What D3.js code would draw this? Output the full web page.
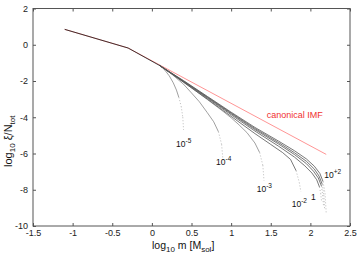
<!DOCTYPE html>
<html lang="en">
<head>
  <meta charset="UTF-8">
  <title>IMF truncation</title>
  <style>
    body { margin: 0; background: #fff; }
    svg { display: block; font-family: "Liberation Sans", Arial, sans-serif; }
    .frame { fill: none; stroke: #555; stroke-width: 1; }
    .axis path { display: none; }
    .axis line { stroke: #555; }
    .axis text { font-size: 9px; fill: #222; font-family: "Liberation Sans", Arial, sans-serif; }
    .curve { fill: none; stroke-width: 0.8; }
  </style>
</head>
<body>
<svg></svg>
<script src="https://cdn.jsdelivr.net/npm/d3@7"></script>
<script>

  let xTicks = [-1.5, -1, -0.5, 0, 0.5, 1, 1.5, 2, 2.5];
  let yTicks = [2, 0, -2, -4, -6, -8, -10];

  // shared part of all curves (below the split)
  let common = [[-1.1, 0.85], [-0.3, -0.18], [0.1, -1.15]];

  // canonical IMF
  let canonical = [[-1.1, 0.85], [-0.3, -0.18], [2.2, -6.05]];

  // truncated curves, labelled by exponent
  let curveNames = ['-5', '-4', '-3', '-2', '-1', '0', '+1', '+2'];
  let curveX = [
    [0.1, 0.16, 0.22, 0.27, 0.31, 0.34, 0.37, 0.39, 0.4],
    [0.1, 0.25, 0.4, 0.5, 0.6, 0.7, 0.78, 0.84, 0.88, 0.9],
    [0.1, 0.3, 0.5, 0.7, 0.9, 1.0, 1.1, 1.2, 1.3, 1.36, 1.4, 1.415],
    [0.1, 0.4, 0.7, 1.0, 1.3, 1.5, 1.65, 1.75, 1.82, 1.86, 1.88],
    [0.1, 0.4, 0.7, 1.0, 1.3, 1.6, 1.8, 1.93, 2.02, 2.08, 2.115, 2.13, 2.14],
    [0.1, 0.4, 0.7, 1.0, 1.3, 1.6, 1.8, 1.95, 2.04, 2.1, 2.14, 2.155, 2.165],
    [0.1, 0.4, 0.7, 1.0, 1.3, 1.6, 1.8, 1.95, 2.05, 2.11, 2.15, 2.17, 2.18],
    [0.1, 0.4, 0.7, 1.0, 1.3, 1.6, 1.8, 1.95, 2.05, 2.12, 2.16, 2.185, 2.2]
  ];
  let curveY = [
    [-1.15, -1.38, -1.72, -2.1, -2.5, -2.9, -3.4, -4.0, -4.7],
    [-1.15, -1.62, -2.18, -2.66, -3.15, -3.75, -4.25, -4.8, -5.5, -6.5],
    [-1.15, -1.75, -2.38, -3.02, -3.68, -4.03, -4.42, -4.85, -5.42, -5.95, -6.65, -7.5],
    [-1.15, -2.07, -3.0, -3.95, -4.9, -5.5, -5.95, -6.33, -6.95, -7.6, -8.1],
    [-1.15, -2.04, -2.95, -3.86, -4.76, -5.6, -6.2, -6.68, -7.08, -7.45, -7.85, -8.2, -8.6],
    [-1.15, -2.02, -2.91, -3.8, -4.68, -5.48, -6.06, -6.56, -6.98, -7.35, -7.8, -8.3, -8.85],
    [-1.15, -2.0, -2.88, -3.76, -4.62, -5.4, -5.96, -6.43, -6.86, -7.25, -7.7, -8.3, -9.1],
    [-1.15, -1.98, -2.85, -3.72, -4.56, -5.32, -5.85, -6.3, -6.7, -7.1, -7.55, -8.2, -9.3]
  ];

  // which curves carry a label, and where (data units)
  let labelNames = ['-5', '-4', '-3', '-2', '0', '+2'];
  let labelX = [0.305, 0.81, 1.323, 1.764, 2.008, 2.176];
  let labelY = [-5.62, -6.63, -8.15, -8.94, -8.54, -7.37];

  let width = 363,
    height = 255;

  let svg = d3.select('svg')
    .attr('width', width)
    .attr('height', height);

  let x = d3.scaleLinear().domain([-1.5, 2.5]).range([33, 350]);
  let y = d3.scaleLinear().domain([-10, 2]).range([226, 8.5]);

  let line = d3.line().x(d => x(d[0])).y(d => y(d[1]));

  // axes, ticks pointing inwards on all four sides
  svg.append('g')
    .attr('class', 'axis')
    .attr('transform', `translate(0,${y(-10)})`)
    .call(d3.axisBottom(x).tickValues(xTicks).tickSize(-3).tickPadding(4).tickFormat(d => String(d)));

  svg.append('g')
    .attr('class', 'axis')
    .attr('transform', `translate(0,${y(2)})`)
    .call(d3.axisTop(x).tickValues(xTicks).tickSize(-3).tickFormat(''));

  svg.append('g')
    .attr('class', 'axis')
    .attr('transform', `translate(${x(-1.5)},0)`)
    .call(d3.axisLeft(y).tickValues(yTicks).tickSize(-3).tickPadding(5).tickFormat(d => String(d)));

  svg.append('g')
    .attr('class', 'axis')
    .attr('transform', `translate(${x(2.5)},0)`)
    .call(d3.axisRight(y).tickValues(yTicks).tickSize(-3).tickFormat(''));

  svg.append('rect')
    .attr('class', 'frame')
    .attr('x', x(-1.5))
    .attr('y', y(2))
    .attr('width', x(2.5) - x(-1.5))
    .attr('height', y(-10) - y(2));

  // canonical IMF
  svg.append('path')
    .datum(canonical)
    .attr('class', 'curve')
    .attr('stroke', '#ff7a7a')
    .attr('stroke-width', 0.8)
    .attr('d', line);

  // truncated curves: solid while shallow, dotted where they plunge
  curveNames.forEach((name, i) => {
    let pts = curveX[i].map((v, j) => [v, curveY[i][j]]);
    let shade = i < 3 ? '#888' : '#555';
    for (let j = 0; j < pts.length - 1; j++) {
      let dx = x(pts[j + 1][0]) - x(pts[j][0]);
      let dy = y(pts[j + 1][1]) - y(pts[j][1]);
      let steep = dy / Math.max(dx, 0.01) > 3.5;
      svg.append('path')
        .datum([pts[j], pts[j + 1]])
        .attr('class', 'curve')
        .attr('stroke', steep ? '#aaa' : shade)
        .attr('stroke-width', steep ? 0.6 : 0.6)
        .attr('stroke-dasharray', steep ? '1,2' : null)
        .attr('d', line);
    }
  });

  svg.append('path')
    .datum(common)
    .attr('class', 'curve')
    .attr('stroke', '#111')
    .attr('stroke-width', 1)
    .attr('d', line);

  // curve labels
  labelNames.forEach((name, i) => {
    let t = svg.append('text')
      .attr('x', x(labelX[i]))
      .attr('y', y(labelY[i]))
      .attr('font-size', 8.5)
      .attr('fill', '#111');
    if (name === '0') {
      t.text('1');
    } else {
      t.append('tspan').text('10');
      t.append('tspan').attr('dy', -4).attr('font-size', 6.5).text(name);
    }
  });

  svg.append('text')
    .attr('x', x(1.449))
    .attr('y', y(-4.04))
    .attr('font-size', 9)
    .attr('fill', '#f03030')
    .text('canonical IMF');

  // axis titles
  let xl = svg.append('text')
    .attr('x', 152)
    .attr('y', 249)
    .attr('font-size', 10.5)
    .attr('fill', '#111');
  xl.append('tspan').text('log');
  xl.append('tspan').attr('dy', 3).attr('font-size', 8).text('10');
  xl.append('tspan').attr('dy', -3).text(' m [M');
  xl.append('tspan').attr('dy', 3).attr('font-size', 8).text('sol');
  xl.append('tspan').attr('dy', -3).text(']');

  let yl = svg.append('text')
    .attr('transform', 'translate(11.5,167) rotate(-90)')
    .attr('font-size', 11)
    .attr('fill', '#111');
  yl.append('tspan').text('log');
  yl.append('tspan').attr('dy', 3).attr('font-size', 8).text('10');
  yl.append('tspan').attr('dy', -3).text(' ξ/N');
  yl.append('tspan').attr('dy', 3).attr('font-size', 8).text('tot');

</script>
</body>
</html>
